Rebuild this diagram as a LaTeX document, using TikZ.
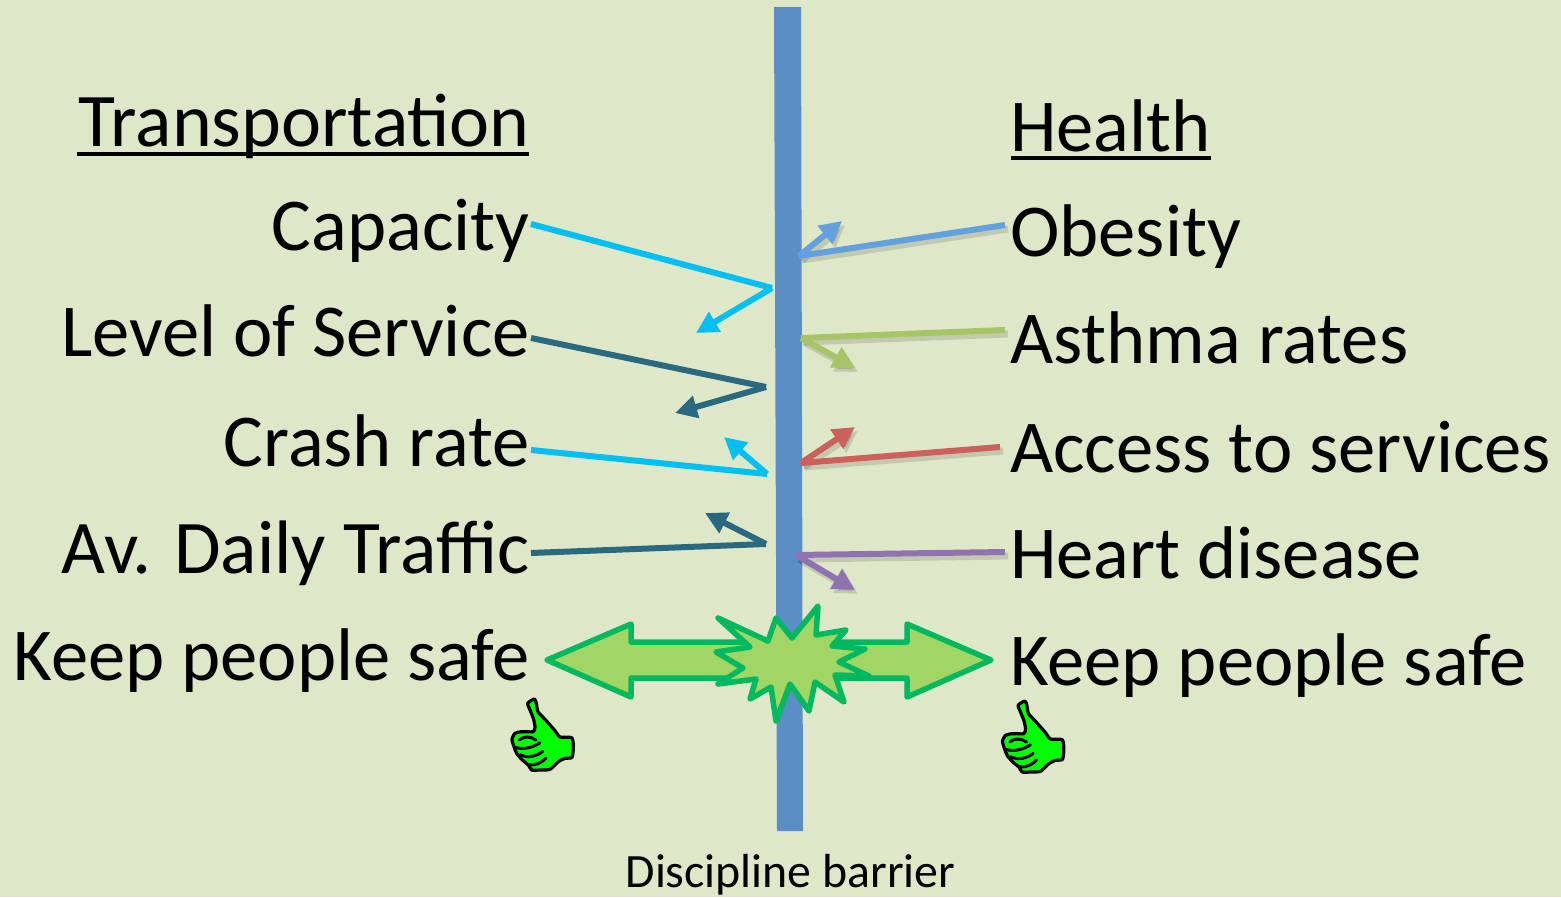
\documentclass[tikz,border=0pt]{standalone}
\usepackage{fontspec}
\setmainfont{Carlito}
\usetikzlibrary{arrows.meta,calc}
\definecolor{bgc}{HTML}{DFE7C9}
\definecolor{barc}{HTML}{5B8EC5}
\definecolor{cyanc}{HTML}{00BFF3}
\definecolor{tealc}{HTML}{2A6A80}
\definecolor{bluec}{HTML}{63A0DE}
\definecolor{greenc}{HTML}{A7C467}
\definecolor{redc}{HTML}{CC615C}
\definecolor{purplec}{HTML}{8E73B0}
\definecolor{burstline}{HTML}{00B85F}
\definecolor{burstfill}{HTML}{A2D664}
\definecolor{thumbc}{HTML}{00FF00}
\tikzset{
  x=1pt,y=-1pt,
  lbl/.style={font=\fontsize{74.6}{88}\selectfont,text height=50pt,text depth=0pt,inner xsep=3pt,inner ysep=0pt,text=black},
  lleft/.style={lbl,anchor=base east},
  lright/.style={lbl,anchor=base west},
  conn/.style={line width=6pt,line cap=butt},
  tipped/.style={conn,-{Triangle[length=22pt,width=22pt]}},
  shad/.style={opacity=.13,black,line width=7pt,transform canvas={shift={(3pt,-4pt)}}},
  burst/.style={line width=5.5pt,draw=burstline,fill=burstfill,line join=round},
  thumb/.pic={
    \begin{scope}[scale=1/3]
    \draw[line width=3.2pt,fill=thumbc,line join=round]
      plot[smooth cycle,tension=.4] coordinates{(83,40)(103,27)(109,40)(114,65)(135,88)(165,122)(180,141)(215,143)(220,170)(216,202)(195,205)(175,215)(150,238)(120,240)(95,240)(85,225)(65,208)(50,190)(42,170)(36,148)(45,130)(65,125)(100,125)(105,110)(100,85)(90,60)};
    \draw[line width=3pt,line cap=round]
      (58,150) .. controls (70,138) and (92,138) .. (108,150)
      (46,172) .. controls (70,180) and (100,172) .. (120,158)
      (60,194) .. controls (85,206) and (110,198) .. (128,184)
      (85,224) .. controls (105,228) and (125,218) .. (138,204);
    \end{scope}
  }
}
\begin{document}
\begin{tikzpicture}
\useasboundingbox (0,0) rectangle (1561,897);
\fill[bgc] (0,0) rectangle (1561,897);
% barrier
\fill[barc] (774,7) -- (801,7) -- (803,831) -- (777,831) -- cycle;
% labels
\node[lleft,font=\fontsize{75.8}{88}\selectfont] (trans) at (533,146) {Transportation};
\node[lright] (health) at (1007,151) {Health};
\draw[line width=3.5pt] (77,154) -- (529,154);
\draw[line width=3.5pt] (1011,158) -- (1211,158);
\node[lleft] (cap) at (533,250) {Capacity};
\node[lleft] (los) at (533,356) {Level of Service};
\node[lleft] (crash) at (533,466) {Crash rate};
\node[lleft,font=\fontsize{75.8}{88}\selectfont] (adt) at (533,573) {Av. Daily Traffic};
\node[lleft] (keepl) at (533,680) {Keep people safe};
\node[lright] (ob) at (1007,256) {Obesity};
\node[lright] (ast) at (1007,363) {Asthma rates};
\node[lright] (acc) at (1007,472) {Access to services};
\node[lright] (hrt) at (1007,578) {Heart disease};
\node[lright] (keepr) at (1007,685) {Keep people safe};
\node[font=\fontsize{47.8}{56}\selectfont,anchor=base,inner sep=0pt] (barrier) at (790.5,887.5) {Discipline barrier};
% line ends, bends and tips
\coordinate (s1) at ($(cap.east |- 0,224)+(-2,0)$); \coordinate (b1) at (772,288); \coordinate (t1) at (696,333);
\coordinate (s2) at ($(los.east |- 0,338)+(-2,0)$); \coordinate (b2) at (766,387); \coordinate (t2) at (675,413);
\coordinate (s3) at ($(crash.east |- 0,450)+(-2,0)$); \coordinate (b3) at (767,474); \coordinate (t3) at (724,437);
\coordinate (s4) at ($(adt.east |- 0,553)+(-2,0)$); \coordinate (b4) at (766,544); \coordinate (t4) at (705,513);
\coordinate (s5) at ($(ob.west |- 0,225)+(-2,0)$); \coordinate (b5) at (799,256); \coordinate (t5) at (842,221);
\coordinate (s6) at ($(ast.west |- 0,330)+(-2,0)$); \coordinate (b6) at (801,338); \coordinate (t6) at (855,368);
\coordinate (s7) at ($(acc.west |- 0,447)+(-7,0)$); \coordinate (b7) at (801,463); \coordinate (t7) at (855,427);
\coordinate (s8) at ($(hrt.west |- 0,552)+(-2,0)$); \coordinate (b8) at (796,555); \coordinate (t8) at (855,590);
% left connectors
\draw[conn,cyanc] (s1) -- (b1);
\draw[tipped,cyanc] (b1) -- (t1);
\draw[conn,tealc] (s2) -- (b2);
\draw[tipped,tealc] (b2) -- (t2);
\draw[conn,cyanc] (s3) -- (b3);
\draw[tipped,cyanc] (b3) -- (t3);
\draw[conn,tealc] (s4) -- (b4);
\draw[tipped,tealc] (b4) -- (t4);
% right connectors (with soft shadows)
\foreach \i in {5,...,8}{
  \draw[conn,shad] (s\i) -- (b\i);
  \draw[tipped,shad] (b\i) -- (t\i);
}
\draw[conn,bluec] (s5) -- (b5);
\draw[tipped,bluec] (b5) -- (t5);
\draw[conn,greenc] (s6) -- (b6);
\draw[tipped,greenc] (b6) -- (t6);
\draw[conn,redc] (s7) -- (b7);
\draw[tipped,redc] (b7) -- (t7);
\draw[conn,purplec] (s8) -- (b8);
\draw[tipped,purplec] (b8) -- (t8);
% double arrow
\draw[burst]
  (547,660) -- (631,624) -- (631,642) -- (907,642) -- (907,624) -- (991,660)
  -- (907,697) -- (907,678) -- (631,678) -- (631,697) -- cycle;
% burst
\draw[burst]
  (718,618) -- (768,641) -- (776,618) -- (792,638) -- (818,606) -- (816,635)
  -- (846,630) -- (832,646) -- (865,649) -- (839,662) -- (869,676) -- (835,675)
  -- (844,702) -- (815,682) -- (809,711) -- (790,684) -- (776,721) -- (771,687)
  -- (750,699) -- (756,679) -- (718,684) -- (743,668) -- (716,652) -- (750,647) -- cycle;
% thumbs
\pic at (500,690) {thumb};
\pic at (990.5,692) {thumb};
\end{tikzpicture}
\end{document}
